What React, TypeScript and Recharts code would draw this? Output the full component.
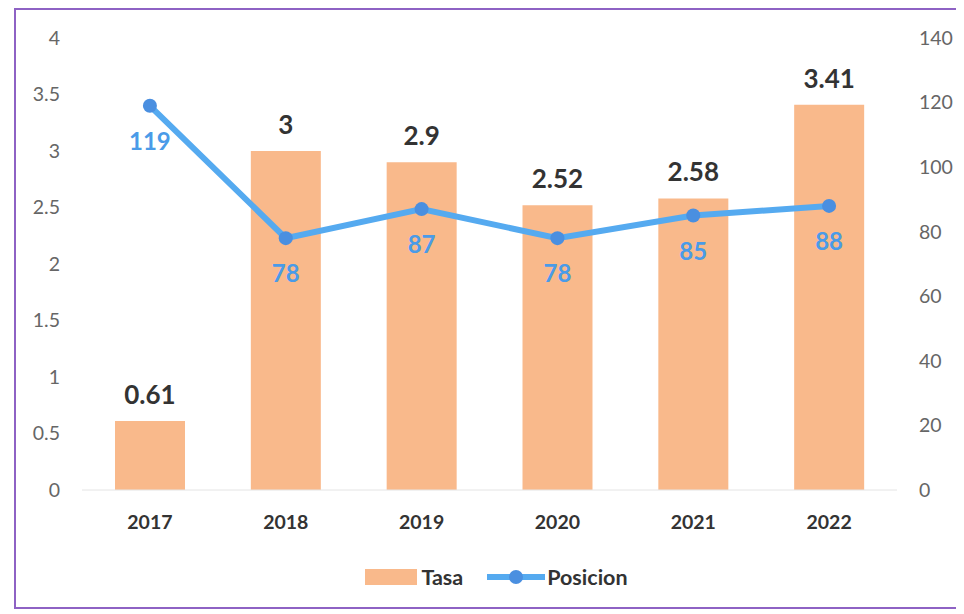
import React from "react";
import { ComposedChart, Bar, Line, XAxis, YAxis, LabelList, Legend } from "recharts";

const years = ["2017", "2018", "2019", "2020", "2021", "2022"];
const tasa = [0.61, 3, 2.9, 2.52, 2.58, 3.41];
const posicion = [119, 78, 87, 78, 85, 88];
const leftTicks = [0, 0.5, 1, 1.5, 2, 2.5, 3, 3.5, 4];
const rightTicks = [0, 20, 40, 60, 80, 100, 120, 140];
const seriesNames = ["Tasa", "Posicion"];

const data = years.map((y, i) => ({ year: y, tasa: tasa[i], posicion: posicion[i] }));

const BAR = "#F9B98B";
const LINE = "#55AAF0";
const DOT = "#4A8FE0";
const FONT = "Lato, 'Open Sans', sans-serif";

const LegendContent = () => (
  <div style={{ display: "flex", justifyContent: "center", alignItems: "center", fontFamily: FONT, fontWeight: 700, fontSize: 21.5, color: "#333", paddingLeft: 4 }}>
    <span style={{ display: "inline-block", width: 52, height: 16, background: BAR, marginRight: 4 }} />
    <span style={{ marginRight: 24 }}>{seriesNames[0]}</span>
    <svg width={58} height={16} style={{ marginRight: 2 }}>
      <line x1={0} y1={8} x2={58} y2={8} stroke={LINE} strokeWidth={6} strokeLinecap="round" />
      <circle cx={29} cy={8} r={7} fill={DOT} />
    </svg>
    <span>{seriesNames[1]}</span>
  </div>
);

export default function App() {
  return (
    <div style={{ position: "relative", width: 956, height: 606, overflow: "hidden" }}>
      <div style={{ position: "absolute", left: 6, top: 0, width: 1000, height: 601, border: "2px solid #8E62C4", boxSizing: "border-box" }} />
      <ComposedChart
        width={956}
        height={600}
        data={data}
        margin={{ top: 30, right: 7, left: 24, bottom: 20 }}
        style={{ position: "absolute", left: 0, top: 0 }}
      >
        <XAxis
          dataKey="year"
          axisLine={{ stroke: "#E4E4E4" }}
          tickLine={false}
          tickMargin={19}
          height={72}
          tick={{ fontFamily: FONT, fontWeight: 700, fontSize: 19.5, fill: "#333" }}
        />
        <YAxis
          yAxisId="left"
          domain={[0, 4]}
          ticks={leftTicks}
          axisLine={false}
          tickLine={false}
          tickMargin={16}
          width={50}
          interval={0}
          tick={{ fontFamily: FONT, fontSize: 19.5, fill: "#666" }}
        />
        <YAxis
          yAxisId="right"
          orientation="right"
          domain={[0, 140]}
          ticks={rightTicks}
          axisLine={false}
          tickLine={false}
          tickMargin={16}
          width={60}
          interval={0}
          tick={{ fontFamily: FONT, fontSize: 19.5, fill: "#666" }}
        />
        <Legend verticalAlign="bottom" content={<LegendContent />} wrapperStyle={{ bottom: 18 }} />
        <Bar yAxisId="left" dataKey="tasa" name={seriesNames[0]} fill={BAR} barSize={70} isAnimationActive={false}>
          <LabelList dataKey="tasa" position="top" offset={17} style={{ fontFamily: FONT, fontWeight: 700, fontSize: 26, fill: "#333" }} />
        </Bar>
        <Line
          yAxisId="right"
          dataKey="posicion"
          name={seriesNames[1]}
          stroke={LINE}
          strokeWidth={6}
          dot={{ r: 7, fill: DOT, stroke: DOT, strokeWidth: 0 }}
          isAnimationActive={false}
        >
          <LabelList dataKey="posicion" position="bottom" offset={27} style={{ fontFamily: FONT, fontWeight: 700, fontSize: 24, fill: "#4A9BE8" }} />
        </Line>
      </ComposedChart>
    </div>
  );
}
